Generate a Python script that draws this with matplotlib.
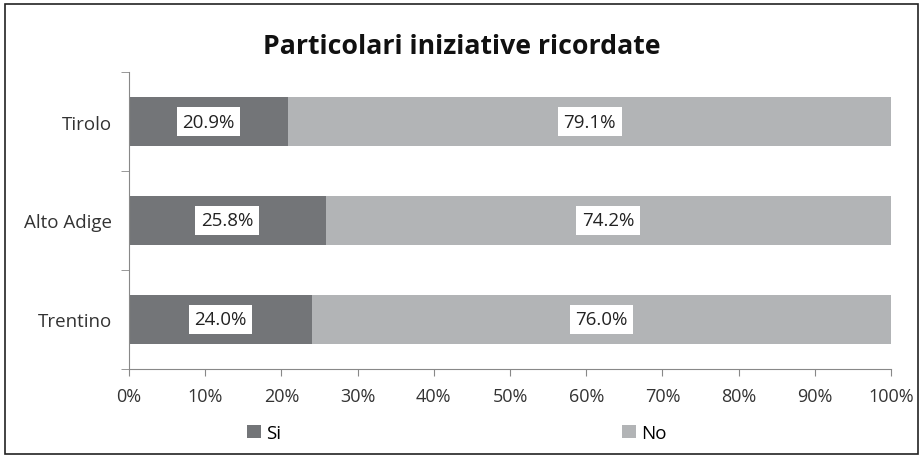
import matplotlib
matplotlib.use("Agg")
import matplotlib.pyplot as plt
from matplotlib.patches import Rectangle
import numpy as np

regions = ["Tirolo", "Alto Adige", "Trentino"]
si = [20.9, 25.8, 24.0]
no = [79.1, 74.2, 76.0]
series_names = ["Si", "No"]
colors = ["#737578", "#b2b4b6"]

plt.rcParams["font.family"] = ["Open Sans", "DejaVu Sans"]

fig = plt.figure(figsize=(9.23, 4.6), dpi=100, facecolor="white")
ax = fig.add_axes([129 / 923, 1 - 370 / 460, (891 - 129) / 923, (370 - 73) / 460])

y = np.arange(len(regions))
h = 0.5
bars_si = ax.barh(y, si, height=h, color=colors[0], label=series_names[0])
bars_no = ax.barh(y, no, left=si, height=h, color=colors[1], label=series_names[1])

box = dict(boxstyle="square,pad=0.3", facecolor="white", edgecolor="none")
for bars, lefts, vals in ((bars_si, [0] * 3, si), (bars_no, si, no)):
    for b, l, v in zip(bars, lefts, vals):
        ax.text(l + v / 2, b.get_y() + b.get_height() / 2, f"{v:.1f}%",
                ha="center", va="center", fontsize=13.5, color="#222222", bbox=box)

ax.set_xlim(0, 100)
ax.set_ylim(2.5, -0.5)
ax.set_xticks(np.arange(0, 101, 10))
ax.set_xticklabels([f"{t}%" for t in range(0, 101, 10)], fontsize=13, color="#333333")
ax.set_yticks(y)
ax.set_yticklabels(regions, fontsize=13.5, color="#333333")
ax.tick_params(axis="y", length=0, pad=12)
ax.set_yticks(np.arange(-0.5, 3, 1), minor=True)
ax.tick_params(axis="y", which="minor", length=6, color="#888888")
ax.tick_params(axis="x", length=5, color="#888888", pad=8)
for s in ("top", "right"):
    ax.spines[s].set_visible(False)
for s in ("left", "bottom"):
    ax.spines[s].set_color("#888888")

fig.text(462 / 923, 1 - 47 / 460, "Particolari iniziative ricordate", ha="center", va="center",
         fontsize=19.2, fontweight="bold", color="#111111")

fig.legend(handles=[bars_si, bars_no], labels=series_names, loc="center",
           bbox_to_anchor=(457 / 923, 1 - 434 / 460), ncol=2, frameon=False,
           fontsize=13.5, handlelength=0.7, handleheight=0.7, columnspacing=18.2, handletextpad=0.3)

fig.patches.append(Rectangle((5 / 923, 5 / 460), 913 / 923, 450 / 460, transform=fig.transFigure,
                             fill=False, edgecolor="#222222", linewidth=1.2))

fig.savefig("out.png", dpi=100, facecolor="white")
